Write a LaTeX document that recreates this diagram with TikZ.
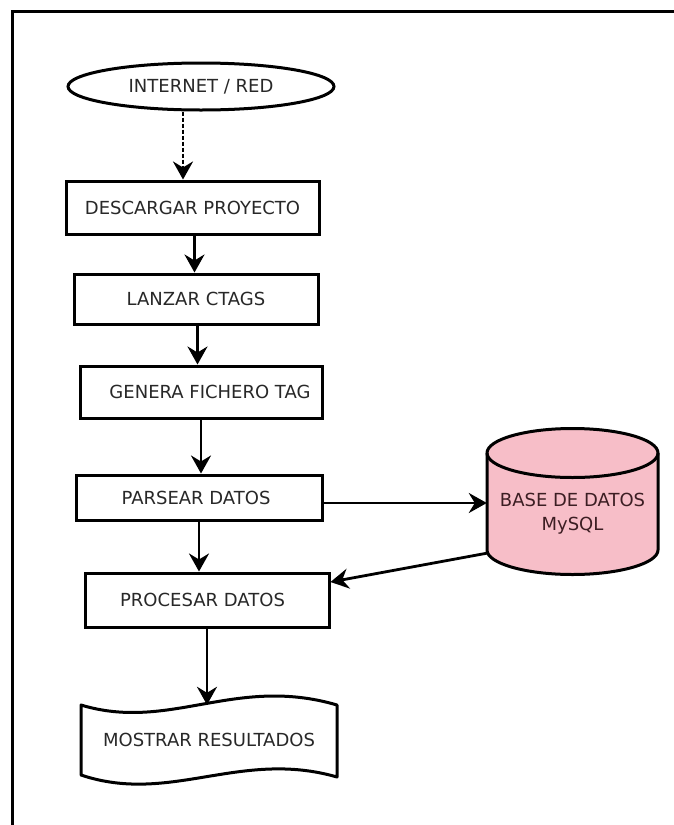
\documentclass[tikz,border=0pt]{standalone}
\usepackage{fontspec}
\setmainfont{DejaVu Sans}
\usetikzlibrary{arrows.meta,shapes.geometric,calc}
\definecolor{txt}{RGB}{40,40,40}
\definecolor{dbpink}{RGB}{247,190,200}
\definecolor{dbtxt}{RGB}{60,30,35}
\begin{document}
\begin{tikzpicture}[x=1pt,y=-1pt,
  lbl/.style={font=\fontsize{18}{24}\selectfont, text=txt, inner sep=0pt, anchor=center},
  box/.style={lbl, draw, line width=3pt},
  shapeline/.style={line width=3pt, line join=round},
  conn/.style={line width=2.8pt, -{Stealth[length=18pt,width=20pt,inset=6pt]}},
]
\useasboundingbox (0,0) rectangle (674,825);
\fill[white] (0,0) rectangle (674,825);
% frame
\draw[line width=3pt] (12,826) -- (12,11) -- (675,11);

% nodes
\node[box, ellipse, minimum width=266pt, minimum height=47pt] (internet) at (201,86.5) {INTERNET / RED};
\node[box, minimum width=253pt, minimum height=53pt] (descargar) at (192.5,207.5) {DESCARGAR PROYECTO};
\node[box, minimum width=244pt, minimum height=50pt] (lanzar) at (196,299) {LANZAR CTAGS};
\node[box, minimum width=242pt, minimum height=52pt] (genera) at (201,392) {\hspace*{18pt}GENERA FICHERO TAG};
\node[box, minimum width=246pt, minimum height=45pt] (parsear) at (199,497.5) {PARSEAR DATOS\hspace*{6pt}};
\node[box, minimum width=244pt, minimum height=54pt] (procesar) at (207,600) {PROCESAR DATOS\hspace*{9pt}};

% document shape
\draw[shapeline, fill=white] (81,705) .. controls (170,732) and (235,675) .. (337,705)
  -- (337,777) .. controls (240,749) and (170,805) .. (81,775) -- cycle;
\node[lbl, minimum width=256pt, minimum height=70pt] (doc) at (209,740) {MOSTRAR RESULTADOS};

% database cylinder
\draw[shapeline, fill=dbpink]
  (487,453) -- (487,550)
  .. controls (487,563.3) and (525.3,574.5) .. (572.5,574.5)
  .. controls (619.7,574.5) and (658,563.3) .. (658,550)
  -- (658,453)
  .. controls (658,439.5) and (619.7,428.5) .. (572.5,428.5)
  .. controls (525.3,428.5) and (487,439.5) .. (487,453) -- cycle;
\draw[shapeline] (487,453) .. controls (487,466.5) and (525.3,477.5) .. (572.5,477.5)
  .. controls (619.7,477.5) and (658,466.5) .. (658,453);
\node[inner sep=0pt, minimum width=171pt, minimum height=100pt] (db) at (572.5,503) {};
\node[lbl, text=dbtxt, align=center] (dblabel) at (572.5,514) {BASE DE DATOS\\MySQL};

% connectors
\draw[conn, dash pattern=on 4pt off 2pt] ([xshift=-18pt]internet.south) -- ([xshift=-18pt]internet.south |- descargar.north);
\draw[conn] ([xshift=2pt]descargar.south) -- ([xshift=2pt]descargar.south |- lanzar.north);
\draw[conn] ([xshift=1.5pt]lanzar.south) -- ([xshift=1.5pt]lanzar.south |- genera.north);
\draw[conn] (genera.south) -- (genera.south |- parsear.north);
\draw[conn] (parsear.south) -- (parsear.south |- procesar.north);
\draw[conn] (procesar.south) -- (procesar.south |- doc.north);
\draw[conn] (parsear.east |- db.west) -- (db.west);
\draw[conn] (db.south west) -- ([yshift=18pt]procesar.east);
\end{tikzpicture}
\end{document}
